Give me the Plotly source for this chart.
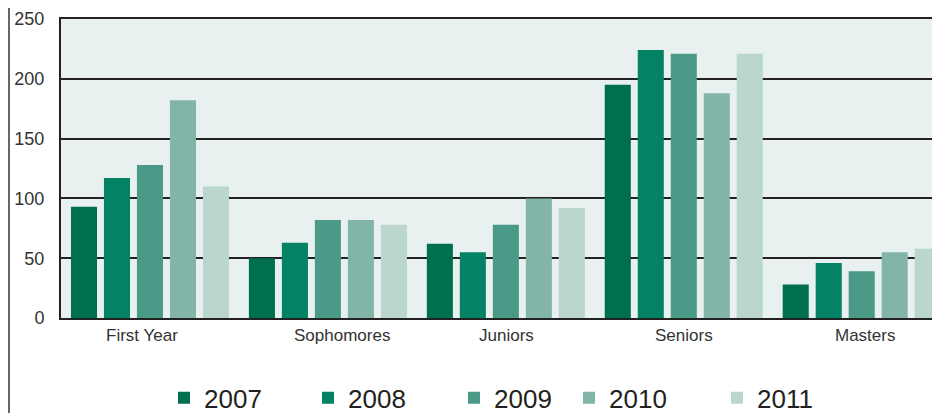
import plotly.graph_objects as go

categories = ["First Year", "Sophomores", "Juniors", "Seniors", "Masters"]
years = ["2007", "2008", "2009", "2010", "2011"]
v2007 = [93, 50, 62, 195, 28]
v2008 = [117, 63, 55, 224, 46]
v2009 = [128, 82, 78, 221, 39]
v2010 = [182, 82, 100, 188, 55]
v2011 = [110, 78, 92, 221, 58]
series = [v2007, v2008, v2009, v2010, v2011]
colors = ["#006F50", "#038266", "#4A9A87", "#82B5A8", "#BAD6CF"]

# page body has an 8px margin, so the figure is drawn 8px smaller and offset
OFF = 8
W, H = 940 - OFF, 413 - OFF
ml, mr, mt, mb = 61 - OFF, 0, 19 - OFF, 95
PW = W - ml - mr
PH = H - mt - mb
legend_text_px = [205, 349, 495, 610, 758]
legend_x = [(p - OFF - 41 - ml) / PW for p in legend_text_px]
label_xshift = [-8, 14, 1, 0, 3]

fig = go.Figure()
for i, (yr, vals) in enumerate(zip(years, series)):
    lg = "legend" if i == 0 else f"legend{i+1}"
    fig.add_trace(go.Bar(
        x=categories, y=vals, name=yr, marker_color=colors[i],
        marker_line_width=0, legend=lg,
    ))

legend_common = dict(
    orientation="h", yanchor="middle", xanchor="left", y=-0.267,
    font=dict(family="Liberation Sans, Arial", size=26, color="#231F20"),
    bgcolor="rgba(0,0,0,0)", itemwidth=30, tracegroupgap=0,
)
layout_legends = {}
for i in range(5):
    key = "legend" if i == 0 else f"legend{i+1}"
    layout_legends[key] = dict(legend_common, x=legend_x[i])

annotations = [
    dict(x=c, xref="x", y=0, yref="paper", yanchor="middle", yshift=-17,
         xshift=s, text=c, showarrow=False,
         font=dict(family="Liberation Sans, Arial", size=17, color="#333333"))
    for c, s in zip(categories, label_xshift)
]

fig.update_layout(
    width=W, height=H,
    margin=dict(l=ml, r=mr, t=mt, b=mb, autoexpand=False),
    paper_bgcolor="white",
    plot_bgcolor="#E8F1EF",
    barmode="group",
    bargap=0.073,
    bargroupgap=0.21,
    showlegend=True,
    font=dict(family="Liberation Sans, Arial", color="#333333"),
    xaxis=dict(
        range=[-0.5, 4.44], automargin=False,
        showgrid=False, showline=True, mirror=True, linecolor="#222222", linewidth=2,
        ticks="", showticklabels=False,
    ),
    yaxis=dict(
        range=[0, 250], dtick=50, showgrid=True, gridcolor="#222222", gridwidth=1.5,
        automargin=False,
        showline=True, linecolor="#222222", linewidth=2, zeroline=False,
        ticks="", ticklabelstandoff=11, tickfont=dict(size=18, color="#333333"),
    ),
    annotations=annotations,
    shapes=[dict(type="line", xref="paper", yref="paper",
                 x0=(1 - ml) / PW, x1=(1 - ml) / PW,
                 y0=-1, y1=2,
                 line=dict(color="#666666", width=2))],
    **layout_legends,
)

fig.write_html("out.html")
